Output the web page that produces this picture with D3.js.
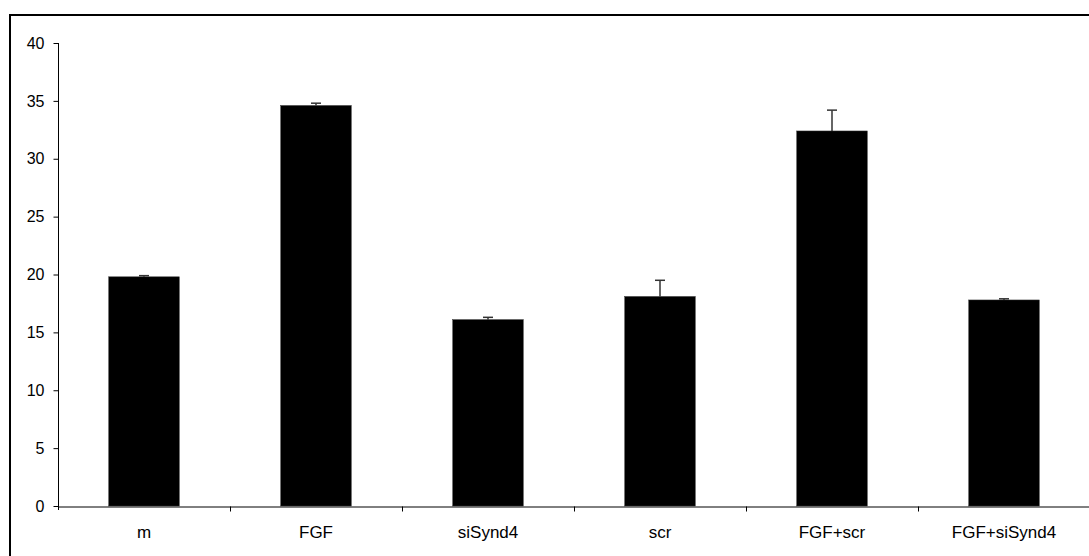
<!DOCTYPE html>
<html>
<head>
<meta charset="utf-8">
<script src="https://cdn.jsdelivr.net/npm/d3@7"></script>
<style>
  body { margin: 0; background: #fff; }
  svg { display: block; }
  text { font-family: "Liberation Sans", Arial, sans-serif; fill: #000; }
</style>
</head>
<body>
<svg id="chart" width="1089" height="556"></svg>
<script>
var categories = ['m', 'FGF', 'siSynd4', 'scr', 'FGF+scr', 'FGF+siSynd4'];
var values = [19.8, 34.6, 16.1, 18.1, 32.4, 17.8];
var errors = [0.1, 0.2, 0.2, 1.4, 1.8, 0.1];
var yTicks = [0, 5, 10, 15, 20, 25, 30, 35, 40];

var plotLeft = 58;
var plotBottom = 506;
var plotTop = 43;
var step = 172;
var fontFamily = '"Liberation Sans", Arial, sans-serif';

var svg = d3.select('#chart');

// outer frame, runs off the right and bottom edge like the original
svg.append('rect')
    .attr('x', 10)
    .attr('y', 15)
    .attr('width', 1100)
    .attr('height', 560)
    .attr('fill', 'none')
    .attr('stroke', '#000')
    .attr('stroke-width', 2);

var x = d3.scaleBand()
    .domain(categories)
    .range([plotLeft, plotLeft + step * categories.length])
    .paddingInner(0.59)
    .paddingOuter(0.295);

var y = d3.scaleLinear()
    .domain([0, 40])
    .range([plotBottom, plotTop]);

// y axis
var yAxis = svg.append('g')
    .attr('transform', `translate(${plotLeft + 0.5},0)`)
    .call(d3.axisLeft(y).tickValues(yTicks).tickSize(5).tickSizeOuter(0).tickPadding(9));

yAxis.select('.domain').attr('stroke', '#000').attr('d', `M0,${plotTop}V${plotBottom + 4}`);
yAxis.selectAll('.tick text').style('font-size', '16px').style('font-family', fontFamily);

// bars
svg.append('g')
    .selectAll('rect')
    .data(categories)
    .join('rect')
        .attr('x', function (d) { return x(d); })
        .attr('y', function (d, i) { return y(values[i]); })
        .attr('width', x.bandwidth())
        .attr('height', function (d, i) { return plotBottom - y(values[i]); })
        .attr('fill', '#000')
        .attr('stroke', '#333')
        .attr('stroke-width', 0.5);

// error bars (upper only)
var err = svg.append('g')
    .attr('stroke', '#333')
    .attr('stroke-width', 1.5);

categories.forEach(function (c, i) {
    var cx = x(c) + x.bandwidth() / 2;
    err.append('line')
        .attr('x1', cx).attr('x2', cx)
        .attr('y1', y(values[i])).attr('y2', y(values[i] + errors[i]));
    err.append('line')
        .attr('x1', cx - 5).attr('x2', cx + 5)
        .attr('y1', y(values[i] + errors[i])).attr('y2', y(values[i] + errors[i]));
});

// x axis
var xAxis = svg.append('g')
    .attr('transform', `translate(0,${plotBottom + 0.5})`)
    .call(d3.axisBottom(x).tickSize(0).tickSizeOuter(0).tickPadding(19));

xAxis.select('.domain').attr('stroke', '#000');
xAxis.selectAll('.tick text').style('font-size', '17px').style('font-family', fontFamily);

// category boundary ticks
xAxis.selectAll('.sep')
    .data(categories.slice(1))
    .join('line')
        .attr('class', 'sep')
        .attr('x1', function (d) { return Math.round(x(d) - x.step() * x.paddingInner() / 2) + 0.5; })
        .attr('x2', function (d) { return Math.round(x(d) - x.step() * x.paddingInner() / 2) + 0.5; })
        .attr('y1', 0)
        .attr('y2', 5)
        .attr('stroke', '#000');
</script>
</body>
</html>
